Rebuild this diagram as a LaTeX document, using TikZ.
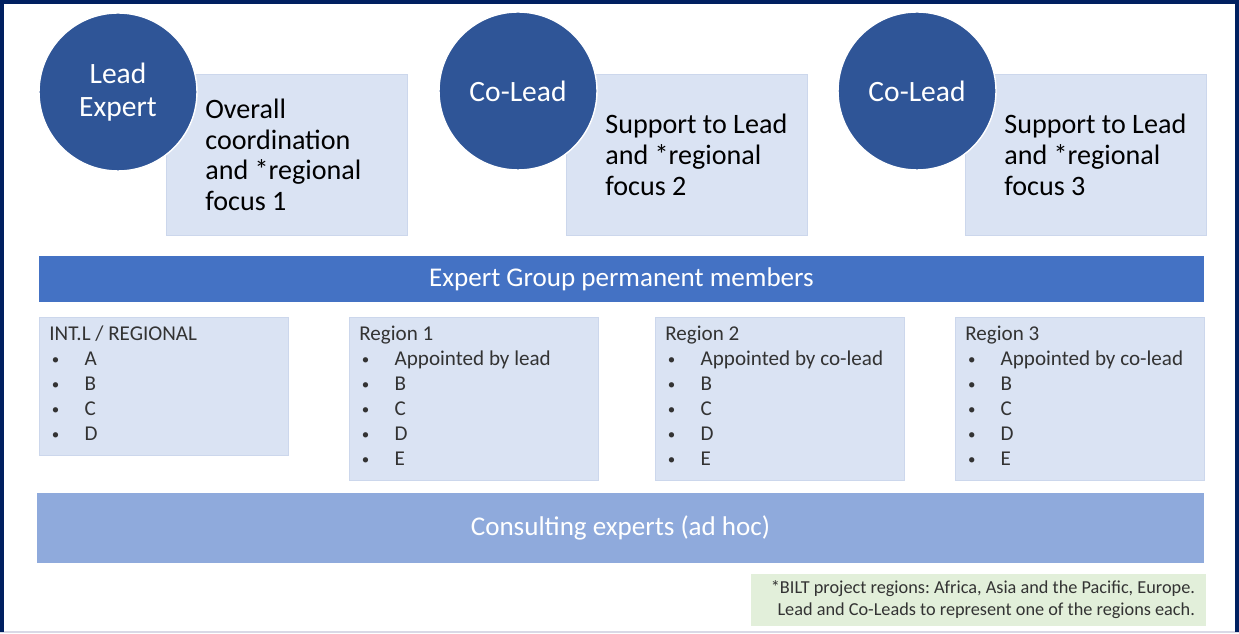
\documentclass[tikz,border=0pt]{standalone}
\usepackage{fontspec}
\setmainfont{Carlito}
\usepackage{tikz}
\usetikzlibrary{positioning}
\definecolor{leadblue}{HTML}{2F5597}
\definecolor{boxblue}{HTML}{DAE3F3}
\definecolor{boxedge}{HTML}{CCD7EC}
\definecolor{bandblue}{HTML}{4472C4}
\definecolor{adhocblue}{HTML}{8FAADC}
\definecolor{notegreen}{HTML}{E2EFDA}
\definecolor{framenavy}{HTML}{002060}
\definecolor{framegray}{HTML}{D9D9E6}
\definecolor{listgray}{HTML}{333333}
\newcommand{\regitem}[1]{\\\hspace*{1.5pt}\makebox[18.6pt][l]{\raisebox{0.9pt}{\fontsize{8.5}{8.5}\selectfont\textbullet}}#1}
\frenchspacing

\begin{document}
\begin{tikzpicture}[x=0.02cm, y=-0.02cm,
  leadcircle/.style={circle, fill=leadblue, draw=white, line width=0.8pt, minimum size=3.16cm, inner sep=0pt, text=white, align=center, font=\fontsize{16.8}{18.8}\selectfont},
  rolebox/.style={rectangle, fill=boxblue, draw=boxedge, minimum width=4.82cm, minimum height=3.22cm, anchor=north west},
  roletext/.style={anchor=west, align=left, inner sep=0pt, font=\fontsize{16}{17.6}\selectfont},
  regionbox/.style={rectangle, fill=boxblue, draw=boxedge, minimum width=4.98cm, minimum height=3.26cm, anchor=north west},
  regiontext/.style={anchor=north west, align=left, inner sep=0pt, text=listgray, font=\fontsize{12}{14.2}\selectfont},
  bandbox/.style={rectangle, text=white, font=\fontsize{15.4}{18}\selectfont}]
\useasboundingbox (0,0) rectangle (1239,634);
% outer frame
\draw[framegray, line width=1pt] (0,632) -- (1239,632);
\draw[framenavy, line width=2.4pt] (1.5,632) -- (1.5,1.5) -- (1237.5,1.5) -- (1237.5,632);

% role boxes first, circles sit on top of them
\node[rolebox] (leadbox) at (166,74) {};
\node[rolebox] (colead1box) at (566,74) {};
\node[rolebox] (colead2box) at (965,74) {};

\node[roletext] at ([xshift=0.78cm]leadbox.west) {Overall\\coordination\\and *regional\\focus 1};
\node[roletext] at ([xshift=0.78cm]colead1box.west) {Support to Lead\\and *regional\\focus 2};
\node[roletext] at ([xshift=0.78cm]colead2box.west) {Support to Lead\\and *regional\\focus 3};

\node[leadcircle] (lead) at (118,92) {Lead\\Expert};
\node[leadcircle] (colead1) at (518,91) {Co-Lead};
\node[leadcircle] (colead2) at (917,91) {Co-Lead};

% permanent members band
\node[bandbox, fill=bandblue, minimum width=23.3cm, minimum height=0.92cm] (members) at (621.5,279) {Expert Group permanent members};

% region boxes
\node[regionbox, minimum height=2.76cm] (intl) at (39,317) {};
\node[regionbox] (region1) at (349,317) {};
\node[regionbox] (region2) at (655,317) {};
\node[regionbox] (region3) at (955,317) {};

\node[regiontext] at ([xshift=0.2cm, yshift=-0.18cm]intl.north west) {INT.L / REGIONAL\regitem{A}\regitem{B}\regitem{C}\regitem{D}};
\node[regiontext] at ([xshift=0.2cm, yshift=-0.18cm]region1.north west) {Region 1\regitem{Appointed by lead}\regitem{B}\regitem{C}\regitem{D}\regitem{E}};
\node[regiontext] at ([xshift=0.2cm, yshift=-0.18cm]region2.north west) {Region 2\regitem{Appointed by co-lead}\regitem{B}\regitem{C}\regitem{D}\regitem{E}};
\node[regiontext] at ([xshift=0.2cm, yshift=-0.18cm]region3.north west) {Region 3\regitem{Appointed by co-lead}\regitem{B}\regitem{C}\regitem{D}\regitem{E}};

% ad hoc band
\node[bandbox, fill=adhocblue, minimum width=23.34cm, minimum height=1.4cm] (adhoc) at (620.5,528) {Consulting experts (ad hoc)};

% footnote
\node[rectangle, fill=notegreen, minimum width=9.1cm, minimum height=1.04cm] (note) at (978.5,600) {};
\node[anchor=east, align=right, inner sep=0pt, text=listgray, font=\fontsize{10.4}{12.5}\selectfont] at ([xshift=-0.22cm]note.east) {*BILT project regions: Africa, Asia and the Pacific, Europe.\\Lead and Co-Leads to represent one of the regions each.};
\end{tikzpicture}
\end{document}
